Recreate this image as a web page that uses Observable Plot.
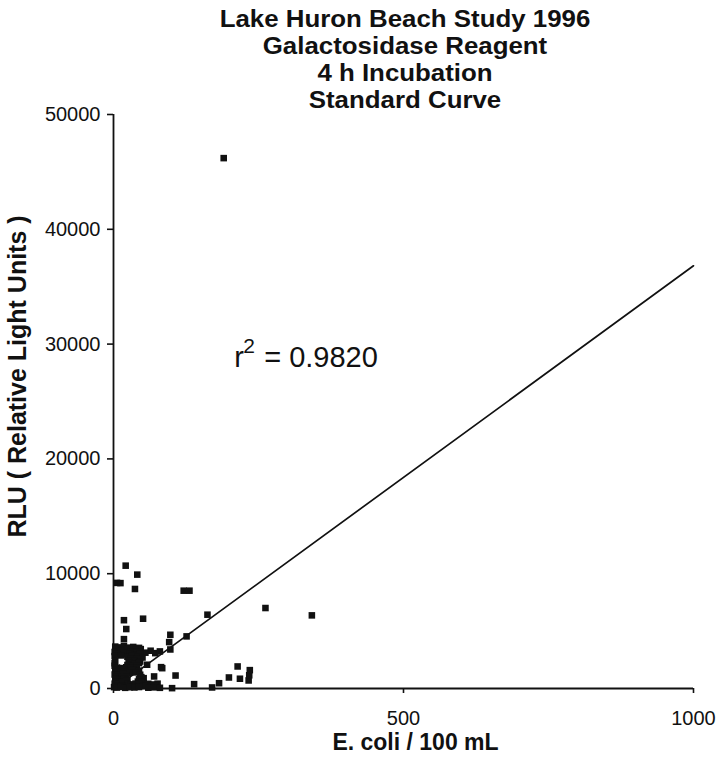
<!DOCTYPE html>
<html>
<head>
<meta charset="utf-8">
<script src="https://cdn.jsdelivr.net/npm/d3@7"></script>
<script src="https://cdn.jsdelivr.net/npm/@observablehq/plot@0.6"></script>
<style>
  body { margin: 0; background: #fff; }
  #wrap { position: relative; width: 718px; height: 760px; }
  #title {
    position: absolute; left: 0; top: 6px; width: 810px;
    text-align: center; transform: scaleX(1.1); transform-origin: 405px 0;
    font: bold 23.5px "Liberation Sans", Arial, sans-serif; line-height: 27px; color: #111;
  }
</style>
</head>
<body>
<div id="wrap">
  <div id="chart"></div>
  <div id="title"></div>
</div>
<script>
const titleLines = ["Lake Huron Beach Study 1996", "Galactosidase Reagent", "4 h Incubation", "Standard Curve"];
const xLabel = "E. coli / 100 mL";
const yLabel = "RLU ( Relative Light Units )";
const r2Parts = ["r", "2", "= 0.9820"];
const r2Pos = [208, 28800];

const xTicks = [0, 500, 1000];
const yTicks = [0, 10000, 20000, 30000, 40000, 50000];

// Fitted regression line end points
const fitX = [2, 1000];
const fitY = [34, 36820];

// E. coli / 100 mL (x) and RLU (y) of each sample
const ecoli = [
  190, 21, 41, 6, 12, 37, 121, 131, 262, 342, 162,
  51, 18, 22, 18, 98, 96, 126, 98, 82, 70, 107, 101, 58,
  139, 170, 182, 199, 214, 218, 233, 234, 235,
  47, 64, 72, 80, 52, 52, 84,
  3, 10, 18, 26, 34, 44,
  6, 15, 24, 38,
  2, 12, 22, 30, 40, 55,
  6, 18, 28, 36, 46,
  2, 13, 24, 32, 42, 50,
  30, 40,
  3, 26, 36, 46,
  2, 28, 36, 44,
  2, 24, 30, 40,
  6, 14, 22, 30, 40,
  3, 10, 18, 26, 34, 44,
  6, 12, 20, 28, 38,
  2, 8, 16, 22, 46,
  6, 14, 22, 48,
  3, 10, 18, 24, 44,
  6, 14, 22, 42, 48,
  2, 8, 16, 24, 30, 38, 44, 60, 68, 76,
  4, 14, 26, 34, 50, 56, 64, 72,
  1, 6, 12, 20, 28, 36, 44, 60, 70, 80
];
const rlu = [
  46200, 10700, 9920, 9200, 9180, 8670, 8520, 8520, 7010, 6370, 6430,
  6080, 5950, 5180, 4300, 4680, 4040, 4540, 3400, 1860, 1050, 1130, 30, 2070,
  380, 90, 460, 960, 1920, 850, 700, 1150, 1600,
  3430, 3290, 3080, 3230, 900, 460, 1770,
  3650, 3580, 3700, 3560, 3620, 3540,
  3420, 3380, 3450, 3400,
  3180, 3250, 3150, 3220, 3170, 3120,
  3020, 2980, 3050, 2960, 3010,
  2820, 2880, 2760, 2850, 2790, 2700,
  2620, 2580,
  2420, 2380, 2450, 2350,
  2200, 2230, 2180, 2210,
  1980, 2050, 1950, 2010,
  1820, 1780, 1850, 1790, 1810,
  1620, 1580, 1640, 1560, 1600, 1550,
  1420, 1380, 1440, 1370, 1400,
  1220, 1180, 1250, 1150, 1200,
  1020, 980, 1040, 990,
  820, 780, 850, 760, 800,
  620, 580, 640, 600, 560,
  420, 380, 450, 400, 360, 430, 390, 410, 350, 420,
  230, 200, 250, 180, 220, 260, 190, 230,
  120, 80, 150, 60, 110, 90, 130, 70, 100, 60
];

const points = ecoli.map((x, i) => ({x, y: rlu[i]}));
const fit = fitX.map((x, i) => ({x, y: fitY[i]}));

document.getElementById("title").innerHTML = titleLines.join("<br>");

const font = '"Liberation Sans", Arial, sans-serif';
const plot = Plot.plot({
  width: 718,
  height: 760,
  marginLeft: 113,
  marginRight: 25,
  marginTop: 114,
  marginBottom: 72,
  x: {domain: [0, 1000]},
  y: {domain: [0, 50000]},
  style: {fontFamily: font, background: "white", color: "#111"},
  marks: [
    Plot.axisY({ticks: yTicks, tickSize: 6, tickPadding: 7, fontSize: 20, label: null, tickFormat: d => String(d), strokeWidth: 1.6}),
    Plot.axisX({ticks: xTicks, tickSize: 5, tickPadding: 17, fontSize: 20, label: null, tickFormat: d => String(d), strokeWidth: 1.6}),
    Plot.ruleX([0], {stroke: "#111", strokeWidth: 1.8}),
    Plot.ruleY([0], {stroke: "#111", strokeWidth: 1.8}),
    Plot.line(fit, {x: "x", y: "y", stroke: "#111", strokeWidth: 1.7}),
    Plot.dot(points, {x: "x", y: "y", symbol: "square", r: 3.7, fill: "#111", stroke: null}),
    Plot.text([r2Parts[0]], {x: () => r2Pos[0], y: () => r2Pos[1], textAnchor: "start", lineAnchor: "middle", fontSize: 29, fill: "#111"}),
    Plot.text([r2Parts[1]], {x: () => r2Pos[0], y: () => r2Pos[1], dx: 9, dy: -12, textAnchor: "start", lineAnchor: "middle", fontSize: 21, fill: "#111"}),
    Plot.text([r2Parts[2]], {x: () => r2Pos[0], y: () => r2Pos[1], dx: 30, textAnchor: "start", lineAnchor: "middle", fontSize: 29, fill: "#111"}),
    Plot.text([xLabel], {frameAnchor: "bottom", dx: 12, dy: 61, fontWeight: "bold", fontSize: 23, fill: "#111"}),
    Plot.text([yLabel], {frameAnchor: "left", rotate: -90, dx: -96, dy: -25, textAnchor: "middle", fontWeight: "bold", fontSize: 25, fill: "#111"})
  ]
});
document.getElementById("chart").appendChild(plot);
</script>
</body>
</html>
